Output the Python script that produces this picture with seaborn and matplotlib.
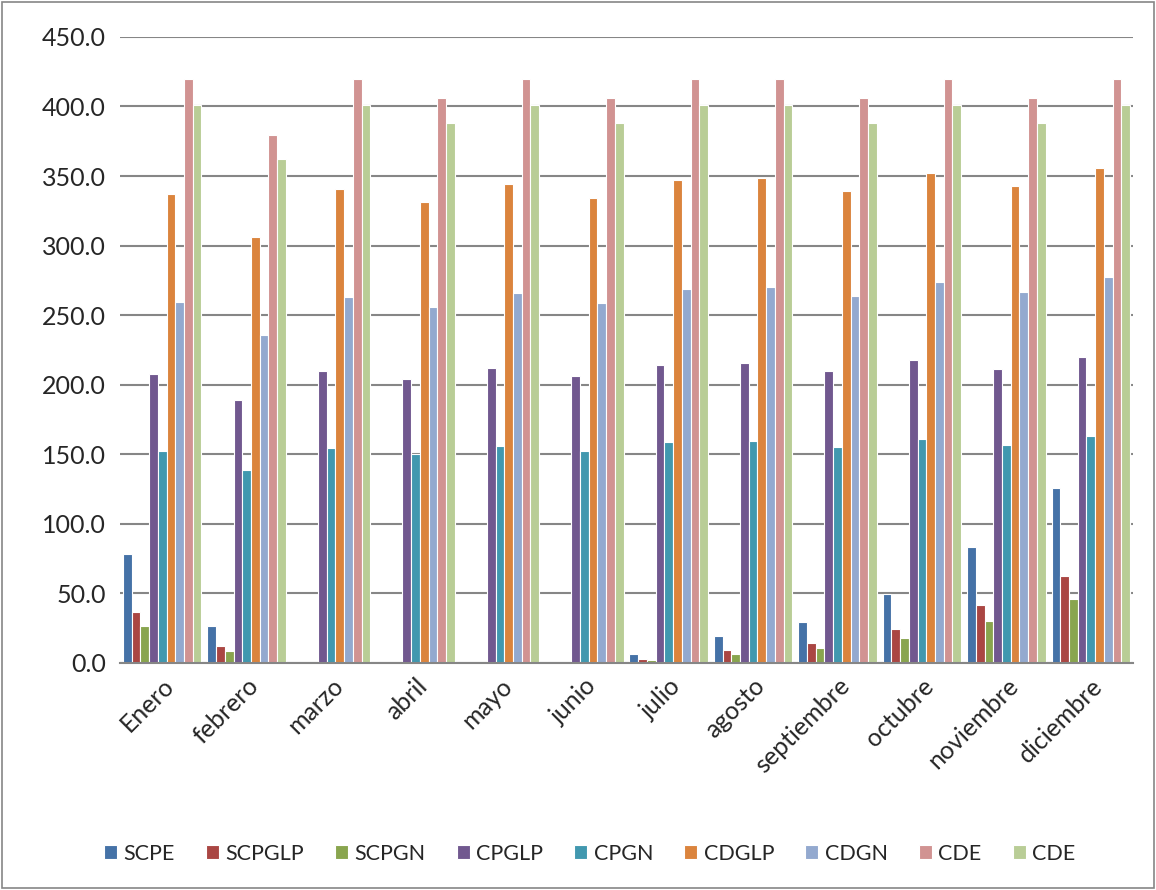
import pandas as pd
import matplotlib.pyplot as plt
import matplotlib.patches as mpatches
import seaborn as sns

months = ['Enero', 'febrero', 'marzo', 'abril', 'mayo', 'junio', 'julio',
          'agosto', 'septiembre', 'octubre', 'noviembre', 'diciembre']

# two series share the label "CDE", so keep internal keys distinct
series_keys = ['SCPE', 'SCPGLP', 'SCPGN', 'CPGLP', 'CPGN', 'CDGLP', 'CDGN', 'CDE_a', 'CDE_b']
series_labels = ['SCPE', 'SCPGLP', 'SCPGN', 'CPGLP', 'CPGN', 'CDGLP', 'CDGN', 'CDE', 'CDE']

scpe = [78.0, 26.3, 0, 0, 0, 0, 6.6, 19.6, 29.6, 49.8, 83.7, 125.6]
scpglp = [36.5, 12.1, 0, 0, 0, 0, 3.0, 9.4, 14.5, 24.5, 41.4, 62.2]
scpgn = [26.6, 8.8, 0, 0, 0, 0, 2.1, 6.6, 10.6, 17.8, 30.5, 45.9]
cpglp = [207.8, 188.8, 210.2, 204.2, 212.3, 206.6, 214.4, 215.3, 209.6, 217.5, 211.4, 219.6]
cpgn = [152.5, 138.9, 154.6, 150.4, 156.1, 152.2, 158.6, 159.5, 155.2, 161.3, 157.0, 163.4]
cdglp = [337.4, 306.0, 340.7, 331.3, 344.0, 334.3, 347.3, 348.8, 339.2, 352.5, 342.5, 355.5]
cdgn = [259.4, 235.9, 262.8, 255.8, 266.0, 258.8, 269.1, 270.6, 263.7, 274.2, 267.0, 277.6]
cde_a = [419.8, 379.3, 419.8, 406.2, 419.8, 406.2, 419.8, 419.8, 406.2, 419.8, 406.2, 419.8]
cde_b = [401.1, 362.4, 401.1, 388.4, 401.1, 388.4, 401.1, 401.1, 388.4, 401.1, 388.4, 401.1]

colors = ['#4572A7', '#AA4643', '#89A54E', '#71588F', '#4198AF',
          '#DB843D', '#93A9CF', '#D19392', '#B9CD96']

values = [scpe, scpglp, scpgn, cpglp, cpgn, cdglp, cdgn, cde_a, cde_b]
rows = []
for key, vals in zip(series_keys, values):
    for m, v in zip(months, vals):
        rows.append({'Mes': m, 'Serie': key, 'Valor': v})
df = pd.DataFrame(rows)

sns.set_style('white')
plt.rcParams['font.family'] = ['Lato', 'DejaVu Sans']

fig = plt.figure(figsize=(11.56, 8.90), dpi=100)
ax = fig.add_axes([0.1038, 0.2551, 0.8763, 0.7034])

sns.barplot(data=df, x='Mes', y='Valor', hue='Serie', order=months,
            hue_order=series_keys, palette=colors, saturation=1, errorbar=None,
            width=0.93, edgecolor='white', linewidth=0.8, ax=ax)

ax.set_ylim(0, 450)
ax.set_xlim(-0.5, len(months) - 0.5)
ax.set_yticks(range(0, 451, 50))
ax.set_yticklabels([f'{v:.1f}' for v in range(0, 451, 50)], fontsize=18)
ax.yaxis.grid(True, color='#868686', linewidth=1.5)
ax.set_axisbelow(True)
ax.set_xlabel('')
ax.set_ylabel('')
for s in ['top', 'right', 'left']:
    ax.spines[s].set_visible(False)
ax.spines['bottom'].set_color('#868686')
ax.spines['bottom'].set_linewidth(1.5)
ax.tick_params(axis='y', length=0, pad=10)
ax.tick_params(axis='x', length=0, pad=8)
plt.setp(ax.get_xticklabels(), rotation=45, ha='right', rotation_mode='anchor', fontsize=18)

handles, _ = ax.get_legend_handles_labels()
ax.get_legend().remove()
fig.legend(handles, series_labels, loc='center', bbox_to_anchor=(0.51, 0.041),
           ncol=9, frameon=False, fontsize=15.5, handlelength=0.6, handleheight=0.6,
           handletextpad=0.3, columnspacing=1.45)

# outer chart frame
fig.patches.append(mpatches.Rectangle((0.002, 0.002), 0.996, 0.996, transform=fig.transFigure,
                                      fill=False, edgecolor='#868686', linewidth=1.2))

fig.savefig('out.png', dpi=100)
